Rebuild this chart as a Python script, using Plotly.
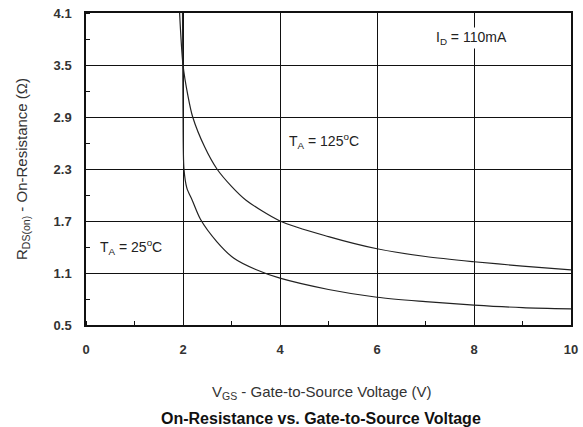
import plotly.graph_objects as go

# Data
vgs_125 = [1.93, 2.0, 2.1, 2.2, 2.45, 2.7, 3.0, 3.3, 4.0, 5.0, 6.0, 7.0, 8.0, 9.0, 10.0]
rds_125 = [4.1, 3.5, 3.15, 2.9, 2.55, 2.3, 2.1, 1.94, 1.7, 1.52, 1.38, 1.29, 1.23, 1.18, 1.135]

vgs_25 = [1.99, 2.0, 2.02, 2.08, 2.19, 2.36, 2.7, 3.05, 3.5, 4.0, 5.0, 6.0, 7.0, 8.0, 9.0, 10.0]
rds_25 = [4.1, 3.0, 2.3, 2.08, 1.94, 1.72, 1.46, 1.27, 1.14, 1.04, 0.91, 0.82, 0.77, 0.73, 0.70, 0.685]

x_ticks = [0, 2, 4, 6, 8, 10]
y_ticks = [0.5, 1.1, 1.7, 2.3, 2.9, 3.5, 4.1]

FONT = "Arial, Liberation Sans"

fig = go.Figure()
for xs, ys in [(vgs_125, rds_125), (vgs_25, rds_25)]:
    fig.add_trace(go.Scatter(x=xs, y=ys, mode="lines",
                             line=dict(color="#222222", width=1.2, shape="spline", smoothing=0.8),
                             showlegend=False, hoverinfo="skip"))

axis_common = dict(showgrid=True, gridcolor="#111111", gridwidth=1.4,
                   showline=True, linecolor="#111111", linewidth=1.5, mirror=True,
                   zeroline=False, ticks="", automargin=False,
                   tickfont=dict(family=FONT, size=13, color="#333333", weight="bold"))

fig.update_xaxes(range=[0, 10], tickvals=x_ticks, ticktext=[str(v) for v in x_ticks],
                 ticklabelstandoff=12,
                 minor=dict(ticks="inside", ticklen=4, tickcolor="#111111", tickwidth=1.2,
                            dtick=1, tick0=0, showgrid=False),
                 **axis_common)
fig.update_yaxes(range=[0.5, 4.1], tickvals=y_ticks, ticktext=[f"{v:.1f}" for v in y_ticks],
                 ticklabelstandoff=10,
                 minor=dict(ticks="inside", ticklen=4, tickcolor="#111111", tickwidth=1.2,
                            dtick=0.3, tick0=0.5, showgrid=False),
                 **axis_common)

font_txt = dict(family=FONT, size=14, color="#222222")
fig.add_annotation(x=7.95, y=3.81, text="I<sub>D</sub> = 110mA", showarrow=False,
                   font=font_txt, bgcolor="white")
fig.add_annotation(x=4.9, y=2.62, text="T<sub>A</sub> = 125<sup>o</sup>C", showarrow=False,
                   font=font_txt, bgcolor="white")
fig.add_annotation(x=0.93, y=1.40, text="T<sub>A</sub> = 25<sup>o</sup>C", showarrow=False,
                   font=font_txt, bgcolor="white")

# Axis titles and caption
fig.add_annotation(xref="paper", yref="paper", x=0.485, y=-0.215, yanchor="middle",
                   text="V<sub>GS</sub> - Gate-to-Source Voltage (V)", showarrow=False,
                   font=dict(family=FONT, size=15, color="#333333"))
fig.add_annotation(xref="paper", yref="paper", x=0.485, y=-0.3, yanchor="middle",
                   text="<b>On-Resistance vs. Gate-to-Source Voltage</b>", showarrow=False,
                   font=dict(family=FONT, size=16, color="#111111"))
fig.add_annotation(xref="paper", yref="paper", x=-0.132, y=0.5, xanchor="center",
                   text="R<sub>DS(on)</sub> - On-Resistance (Ω)", showarrow=False, textangle=-90,
                   font=dict(family=FONT, size=15, color="#333333"))

fig.update_layout(width=583, height=427, margin=dict(l=86, r=12, t=13, b=102),
                  plot_bgcolor="white", paper_bgcolor="white")
fig.write_html("out.html")
